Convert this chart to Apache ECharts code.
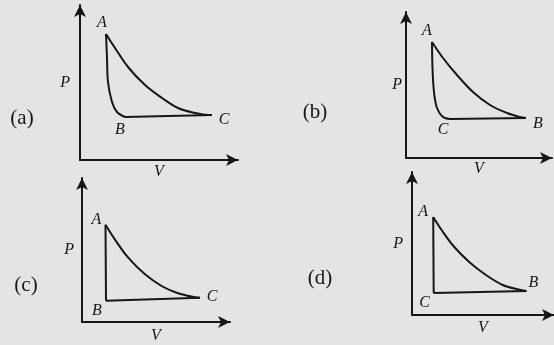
<!DOCTYPE html>
<html><head><meta charset="utf-8">
<script src="https://cdn.jsdelivr.net/npm/echarts@6/dist/echarts.min.js"></script>
<style>html,body{margin:0;padding:0;background:#e4e4e2;}#c{width:554px;height:345px;}</style>
</head><body><div id="c"></div>
<script>
// Panel identifiers
const panelNames = ['(a)', '(b)', '(c)', '(d)'];
const axisXName = 'V';
const axisYName = 'P';

// (a): A -> C curve, A -> B curve, B -> C straight
const aUpper = [[26,126],[35,112],[48,93],[65,75],[82,62],[98,52],[115,47],[128,45],[132,45]];
const aLower = [[26,126],[27,102],[28,78],[32,58],[37,48],[45,43]];
const aBase  = [[45,43],[132,45]];
const aVertices = [['A',26,126],['B',45,43],['C',132,45]];

// (b): A -> B curve, A -> C curve, C -> B straight
const bUpper = [[26,116],[37,100],[51,83],[67,66],[84,53],[101,45],[114,41],[120,40]];
const bLower = [[26,116],[26.5,90],[28,66],[31,50],[37,41],[44,39]];
const bBase  = [[44,39],[120,40]];
const bVertices = [['A',26,116],['C',44,39],['B',120,40]];

// (c): A -> C curve, A -> B vertical, B -> C straight
const cUpper = [[23.5,98],[33,83],[46,65],[63,48],[80,36],[96,29],[113,25],[118,24.5]];
const cLower = [[23.5,98],[24,21.5]];
const cBase  = [[24,21.5],[118,24.5]];
const cVertices = [['A',23.5,98],['B',24,21.5],['C',118,24.5]];

// (d): A -> B curve, A -> C vertical, C -> B straight
const dUpper = [[21.5,98],[30,85],[42,69],[58,53],[75,40],[92,30],[108,25.5],[116,24]];
const dLower = [[21.5,98],[22,22]];
const dBase  = [[22,22],[116,24]];
const dVertices = [['A',21.5,98],['C',22,22],['B',116,24]];

const panelData = [
  {upper:aUpper, lower:aLower, base:aBase, vertices:aVertices, smoothLower:true},
  {upper:bUpper, lower:bLower, base:bBase, vertices:bVertices, smoothLower:true},
  {upper:cUpper, lower:cLower, base:cBase, vertices:cVertices, smoothLower:false},
  {upper:dUpper, lower:dLower, base:dBase, vertices:dVertices, smoothLower:false}
];

// layout (pixels)
const layout = [
  {left:80,  top:5,   width:158, height:155, pGap:10, pShift:30, vGap:4, panel:[22,118]},
  {left:406, top:12,  width:146, height:146, pGap:4,  pShift:26, vGap:3, panel:[315,112]},
  {left:82,  top:178, width:148, height:145, pGap:8,  pShift:27, vGap:6, panel:[26,285]},
  {left:412, top:172, width:144, height:143, pGap:9,  pShift:30, vGap:5, panel:[320,278]}
];
const labelOffsets = [
  {A:[-4,-11], B:[-5,13], C:[12,5]},
  {A:[-5,-11], C:[-7,11], B:[12,6]},
  {A:[-9,-5],  B:[-9,10], C:[12,-1]},
  {A:[-10,-5], C:[-9,10], B:[7,-8]}
];

const ink = '#161616';
const serif = '"Liberation Serif","DejaVu Serif",serif';

const grid = [], xAxis = [], yAxis = [], series = [], graphic = [];
layout.forEach((L, i) => {
  grid.push({left:L.left, top:L.top, width:L.width, height:L.height, containLabel:false});
  xAxis.push({
    type:'value', gridIndex:i, min:0, max:L.width,
    axisLine:{onZero:false, symbol:['none','arrow'], symbolSize:[9,12], lineStyle:{color:ink, width:2}},
    axisTick:{show:false}, axisLabel:{show:false}, splitLine:{show:false},
    name:axisXName, nameLocation:'middle', nameGap:L.vGap,
    nameTextStyle:{fontFamily:serif, fontStyle:'italic', fontSize:16, color:ink, verticalAlign:'top'}
  });
  yAxis.push({
    type:'value', gridIndex:i, min:0, max:L.height,
    axisLine:{onZero:false, symbol:['none','arrow'], symbolSize:[9,12], lineStyle:{color:ink, width:2}},
    axisTick:{show:false}, axisLabel:{show:false}, splitLine:{show:false},
    name:axisYName, nameLocation:'middle', nameGap:L.pGap, nameRotate:0,
    nameTextStyle:{fontFamily:serif, fontStyle:'italic', fontSize:16, color:ink, padding:[0,0,L.pShift,0]}
  });
  const D = panelData[i];
  const lineBase = {type:'line', xAxisIndex:i, yAxisIndex:i, showSymbol:false, symbol:'none',
    lineStyle:{color:ink, width:2}, silent:true, animation:false};
  series.push(Object.assign({}, lineBase, {data:D.upper, smooth:0.35}));
  series.push(Object.assign({}, lineBase, {data:D.lower, smooth:D.smoothLower ? 0.35 : false}));
  series.push(Object.assign({}, lineBase, {data:D.base}));
  series.push({
    type:'scatter', xAxisIndex:i, yAxisIndex:i, symbolSize:0, silent:true, animation:false,
    itemStyle:{color:ink, opacity:1},
    data:D.vertices.map(v => ({
      name:v[0], value:[v[1], v[2]],
      label:{show:true, position:'inside', offset:labelOffsets[i][v[0]], formatter:'{b}',
        fontFamily:serif, fontStyle:'italic', fontSize:16, color:ink, opacity:1,
        textBorderWidth:0, textBorderColor:'transparent', textShadowBlur:0}
    }))
  });
  graphic.push({type:'text', x:L.panel[0], y:L.panel[1], silent:true,
    style:{text:panelNames[i], font:'21px ' + serif, fill:ink, align:'center', verticalAlign:'middle'}});
});

const chart = echarts.init(document.getElementById('c'), null, {renderer:'canvas'});
chart.setOption({backgroundColor:'#e4e4e2', animation:false, grid, xAxis, yAxis, series, graphic});
</script></body></html>
